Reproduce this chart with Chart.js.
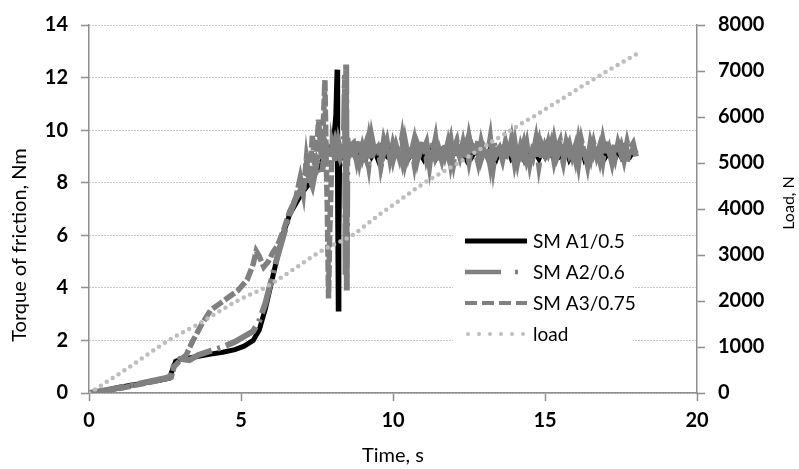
<!DOCTYPE html>
<html>
<head>
<meta charset="utf-8">
<script src="https://cdn.jsdelivr.net/npm/chart.js@4.4.0/dist/chart.umd.min.js"></script>
<style>
  html, body { margin: 0; padding: 0; background: #fff; }
  canvas { display: block; }
</style>
</head>
<body>
<canvas id="chart" width="799" height="469"></canvas>
<script>
// series names
const seriesLabels = ['SM A1/0.5', 'SM A2/0.6', 'SM A3/0.75', 'load'];

// axis ranges [min, max, step]
const timeAxis = [0, 20, 5];
const torqueAxis = [0, 14, 2];
const loadAxis = [0, 8000, 1000];

// run-in part of each torque curve, time in s, torque in Nm
const a1Time = [0, 0.3, 0.6, 1.0, 1.5, 2.0, 2.4, 2.65, 2.75, 2.85, 3.0, 3.3, 3.6, 4.0, 4.4, 4.8, 5.1, 5.4, 5.6, 5.8,
  6.0, 6.2, 6.4, 6.6, 6.8, 7.0, 7.2, 7.4, 7.6, 7.8, 7.95, 8.05, 8.12, 8.16, 8.18, 8.2, 8.22, 8.25, 8.3, 8.4, 8.5, 8.6];
const a1Torque = [0, 0.05, 0.12, 0.22, 0.32, 0.42, 0.5, 0.57, 0.9, 1.2, 1.28, 1.33, 1.4, 1.48, 1.55, 1.65, 1.78, 2.0, 2.4, 3.2,
  4.2, 5.2, 6.1, 6.8, 7.2, 7.6, 7.9, 8.3, 8.7, 9.1, 9.3, 9.6, 10.6, 12.3, 7.0, 3.2, 6.0, 9.4, 9.0, 9.3, 8.9, 9.2];

const a2Time = [0, 0.5, 1.0, 1.5, 2.0, 2.5, 2.7, 2.8, 3.0, 3.3, 3.6, 4.0, 4.4, 4.8, 5.1, 5.4, 5.6, 5.8, 6.0, 6.2,
  6.4, 6.6, 6.8, 7.0, 7.2, 7.35, 7.5, 7.65, 7.8, 7.95, 8.1, 8.25, 8.38, 8.42, 8.44, 8.46, 8.48, 8.5, 8.55, 8.6];
const a2Torque = [0, 0.1, 0.2, 0.32, 0.44, 0.56, 0.64, 1.1, 1.3, 1.25, 1.45, 1.6, 1.75, 1.95, 2.15, 2.35, 2.75, 3.4, 4.3, 5.2,
  6.0, 6.8, 7.4, 7.8, 8.4, 7.9, 8.8, 8.3, 9.4, 8.9, 9.6, 9.0, 9.5, 12.1, 4.5, 12.5, 3.9, 9.7, 8.9, 9.4];

const a3Time = [0, 0.5, 1.0, 1.5, 2.0, 2.5, 2.7, 2.8, 3.0, 3.2, 3.4, 3.7, 4.0, 4.3, 4.6, 4.9, 5.2, 5.4, 5.5, 5.6,
  5.75, 5.9, 6.05, 6.2, 6.4, 6.6, 6.8, 6.95, 7.05, 7.15, 7.25, 7.35, 7.45, 7.55, 7.65, 7.72, 7.76, 7.8, 7.84, 7.88,
  7.92, 8.0, 8.1, 8.2, 8.3, 8.4, 8.5, 8.6];
const a3Torque = [0, 0.08, 0.17, 0.29, 0.41, 0.53, 0.6, 1.0, 1.25, 1.45, 1.95, 2.6, 3.15, 3.4, 3.65, 3.9, 4.3, 4.9, 5.4, 5.2,
  4.8, 5.0, 5.35, 5.6, 6.2, 6.9, 7.4, 8.2, 7.6, 8.9, 8.0, 9.8, 8.3, 10.4, 8.9, 10.6, 11.9, 9.0, 7.0, 3.6,
  6.2, 9.4, 8.8, 9.6, 9.1, 9.5, 8.9, 9.3];

// steady part, same time points for all three curves
const plateauTime = [8.7, 8.8, 8.9, 9.0, 9.1, 9.2, 9.3, 9.4, 9.5, 9.6,
  9.7, 9.8, 9.9, 10.0, 10.1, 10.2, 10.3, 10.4, 10.5, 10.6,
  10.7, 10.8, 10.9, 11.0, 11.1, 11.2, 11.3, 11.4, 11.5, 11.6,
  11.7, 11.8, 11.9, 12.0, 12.1, 12.2, 12.3, 12.4, 12.5, 12.6,
  12.7, 12.8, 12.9, 13.0, 13.1, 13.2, 13.3, 13.4, 13.5, 13.6,
  13.7, 13.8, 13.9, 14.0, 14.1, 14.2, 14.3, 14.4, 14.5, 14.6,
  14.7, 14.8, 14.9, 15.0, 15.1, 15.2, 15.3, 15.4, 15.5, 15.6,
  15.7, 15.8, 15.9, 16.0, 16.1, 16.2, 16.3, 16.4, 16.5, 16.6,
  16.7, 16.8, 16.9, 17.0, 17.1, 17.2, 17.3, 17.4, 17.5, 17.6,
  17.7, 17.8, 17.9, 18.0];
const a1Plateau = [9.2, 9.0, 9.3, 9.1, 8.9, 9.3, 9.0, 9.2, 8.9, 9.3,
  9.1, 9.0, 9.2, 8.9, 9.3, 9.1, 9.0, 9.2, 8.9, 9.1,
  9.3, 9.0, 9.1, 8.9, 9.2, 9.0, 9.3, 8.9, 9.1, 9.2,
  9.0, 9.3, 8.9, 9.1, 9.2, 9.0, 9.1, 8.9, 9.3, 9.0,
  9.2, 9.1, 8.9, 9.2, 9.0, 9.3, 9.1, 8.9, 9.2, 9.0,
  9.1, 9.3, 8.9, 9.0, 9.2, 9.1, 8.9, 9.3, 9.0, 9.2,
  9.1, 8.9, 9.2, 9.0, 9.3, 9.1, 8.9, 9.2, 9.0, 9.1,
  9.3, 8.9, 9.1, 9.2, 9.0, 9.3, 8.9, 9.1, 9.2, 9.0,
  9.1, 8.9, 9.3, 9.0, 9.2, 9.1, 8.9, 9.2, 9.0, 9.3,
  9.1, 9.0, 9.2, 9.1];
const a2Plateau = [9.5, 8.9, 9.6, 9.0, 9.4, 8.7, 9.7, 9.1, 9.3, 8.8,
  9.6, 9.2, 9.5, 8.9, 9.4, 9.0, 9.7, 8.8, 9.3, 9.1,
  9.6, 8.9, 9.4, 9.2, 9.5, 8.7, 9.6, 9.0, 9.3, 8.9,
  9.5, 9.1, 9.6, 8.8, 9.4, 9.0, 9.5, 8.9, 9.7, 9.1,
  9.3, 8.8, 9.5, 9.0, 9.4, 8.7, 9.6, 9.1, 9.3, 8.9,
  9.5, 9.0, 9.6, 8.8, 9.4, 9.1, 9.5, 8.9, 9.3, 9.0,
  9.6, 8.7, 9.4, 9.1, 9.5, 8.9, 9.6, 9.0, 9.3, 8.8,
  9.5, 9.1, 9.4, 8.9, 9.6, 9.0, 9.3, 8.7, 9.5, 9.1,
  9.4, 8.9, 9.6, 9.0, 9.3, 8.8, 9.5, 9.1, 9.4, 8.9,
  9.5, 9.0, 9.3, 9.1];
const a3Plateau = [9.1, 9.6, 8.8, 9.4, 9.0, 9.7, 8.9, 9.3, 9.5, 8.6,
  9.2, 9.6, 8.9, 9.5, 9.1, 9.3, 8.8, 9.6, 9.0, 9.4,
  8.7, 9.5, 9.2, 9.6, 8.9, 9.3, 9.1, 9.7, 8.8, 9.4,
  9.0, 9.5, 8.7, 9.3, 9.6, 8.9, 9.2, 9.5, 8.8, 9.4,
  9.1, 9.6, 8.9, 9.3, 9.0, 9.7, 8.6, 9.4, 9.2, 9.5,
  8.9, 9.3, 9.1, 9.6, 8.8, 9.4, 9.0, 9.5, 8.7, 9.3,
  9.2, 9.6, 8.9, 9.4, 9.1, 9.5, 8.8, 9.3, 9.6, 8.9,
  9.2, 9.5, 9.0, 9.4, 8.7, 9.6, 9.1, 9.3, 8.9, 9.5,
  9.0, 9.4, 8.8, 9.6, 9.2, 9.3, 8.9, 9.5, 9.1, 9.4,
  8.8, 9.3, 9.5, 9.0];

// load, N
const loadTime = [0, 0.3, 0.6, 1, 1.5, 2, 2.6, 3, 3.6, 4.2, 4.8, 5.3, 5.8, 6.3, 6.8, 7.3, 7.8, 8.3, 8.7,
  9.2, 9.7, 10.2, 10.7, 11.2, 11.7, 12.2, 12.7, 13.2, 13.7, 14.2, 14.7, 15.2, 15.7, 16.2, 16.7, 17.2, 17.7, 18.1];
const loadN = [0, 120, 250, 420, 640, 870, 1140, 1290, 1500, 1740, 1980, 2140, 2290, 2500, 2720, 2950, 3150, 3300, 3440,
  3700, 3950, 4180, 4420, 4640, 4830, 5020, 5230, 5440, 5640, 5850, 6040, 6250, 6450, 6660, 6860, 7060, 7250, 7400];


function toPoints(times, values) {
    return times.map((t, i) => ({ x: t, y: values[i] }));
}

const axisGray = '#8e8e8e';
const gridGray = '#8f8f8f';
const tickFont = { family: 'Lato', size: 20, weight: 'bold' };

const datasets = [
    {
        label: seriesLabels[0],
        data: toPoints(a1Time.concat(plateauTime), a1Torque.concat(a1Plateau)),
        borderColor: '#000',
        borderWidth: 5,
        yAxisID: 'y',
        order: 4,
        legendDash: [],
        legendWidth: 5
    },
    {
        label: seriesLabels[1],
        data: toPoints(a2Time.concat(plateauTime), a2Torque.concat(a2Plateau)),
        borderColor: '#808080',
        borderWidth: 6,
        borderDash: [36, 6, 3, 6],
        yAxisID: 'y',
        order: 3,
        legendDash: [36, 14, 3, 30],
        legendWidth: 4.5
    },
    {
        label: seriesLabels[2],
        data: toPoints(a3Time.concat(plateauTime), a3Torque.concat(a3Plateau)),
        borderColor: '#808080',
        borderWidth: 5.5,
        borderDash: [12, 3],
        yAxisID: 'y',
        order: 2,
        legendDash: [12, 5],
        legendWidth: 4
    },
    {
        label: seriesLabels[3],
        data: toPoints(loadTime, loadN),
        borderColor: '#bdbdbd',
        borderWidth: 4.5,
        borderDash: [0, 7],
        borderCapStyle: 'round',
        yAxisID: 'yLoad',
        order: 1,
        legendDash: [0, 11],
        legendWidth: 4
    }
];

// legend inside the plot and the two rotated y titles
const overlayPlugin = {
    id: 'overlay',
    afterDraw(chart) {
        const ctx = chart.ctx;
        ctx.save();
        ctx.fillStyle = '#fff';
        ctx.fillRect(453, 223, 180, 126);
        chart.data.datasets.forEach((ds, i) => {
            const y = 241 + i * 31;
            ctx.beginPath();
            ctx.strokeStyle = ds.borderColor;
            ctx.lineWidth = ds.legendWidth;
            ctx.lineCap = ds.borderCapStyle || 'butt';
            ctx.setLineDash(ds.legendDash);
            ctx.moveTo(ds.legendDash.length && ds.legendDash[0] === 0 ? 468 : 465, y);
            ctx.lineTo(527, y);
            ctx.stroke();
            ctx.setLineDash([]);
            ctx.fillStyle = '#000';
            ctx.font = '19px Lato';
            ctx.textAlign = 'left';
            ctx.textBaseline = 'middle';
            ctx.fillText(ds.label, 533, y + 1);
        });

        ctx.fillStyle = '#000';
        ctx.textAlign = 'center';
        ctx.textBaseline = 'middle';
        ctx.font = '20px Lato';
        ctx.translate(20, 245);
        ctx.rotate(-Math.PI / 2);
        ctx.fillText('Torque of friction, Nm', 0, 0);
        ctx.setTransform(1, 0, 0, 1, 0, 0);
        ctx.font = '16px Lato';
        ctx.translate(789, 203);
        ctx.rotate(-Math.PI / 2);
        ctx.fillText('Load, N', 0, 0);
        ctx.restore();
    }
};

new Chart(document.getElementById('chart'), {
    type: 'line',
    data: { datasets: datasets },
    plugins: [overlayPlugin],
    options: {
        responsive: false,
        animation: false,
        devicePixelRatio: 1,
        layout: { padding: { top: 24, left: 0, right: 0, bottom: 0 } },
        plugins: {
            legend: { display: false },
            tooltip: { enabled: false }
        },
        elements: {
            point: { radius: 0 },
            line: { tension: 0 }
        },
        scales: {
            x: {
                type: 'linear',
                min: timeAxis[0],
                max: timeAxis[1],
                ticks: { stepSize: timeAxis[2], font: tickFont, color: '#000', padding: 8 },
                grid: { drawOnChartArea: false, tickLength: 8, tickColor: axisGray, tickWidth: 1.5 },
                border: { color: axisGray, width: 1.5 },
                title: {
                    display: true,
                    text: 'Time, s',
                    color: '#000',
                    font: { family: 'Lato', size: 20 },
                    padding: { top: 0, bottom: 1 }
                },
                afterFit(scale) { scale.height = 76; }
            },
            y: {
                position: 'left',
                min: torqueAxis[0],
                max: torqueAxis[1],
                ticks: { stepSize: torqueAxis[2], font: tickFont, color: '#000', padding: 13 },
                grid: { color: gridGray, lineWidth: 1, tickLength: 8, tickColor: axisGray, tickWidth: 1.5 },
                border: { color: axisGray, width: 1.5, dash: [1, 2] },
                afterFit(scale) { scale.width = 89; }
            },
            yLoad: {
                position: 'right',
                min: loadAxis[0],
                max: loadAxis[1],
                ticks: {
                    stepSize: loadAxis[2],
                    font: tickFont,
                    color: '#000',
                    padding: 13,
                    callback: (value) => String(value)
                },
                grid: { drawOnChartArea: false, tickLength: 8, tickColor: axisGray, tickWidth: 1.5 },
                border: { color: axisGray, width: 1.5 },
                afterFit(scale) { scale.width = 102; }
            }
        }
    }
});
</script>
</body>
</html>
